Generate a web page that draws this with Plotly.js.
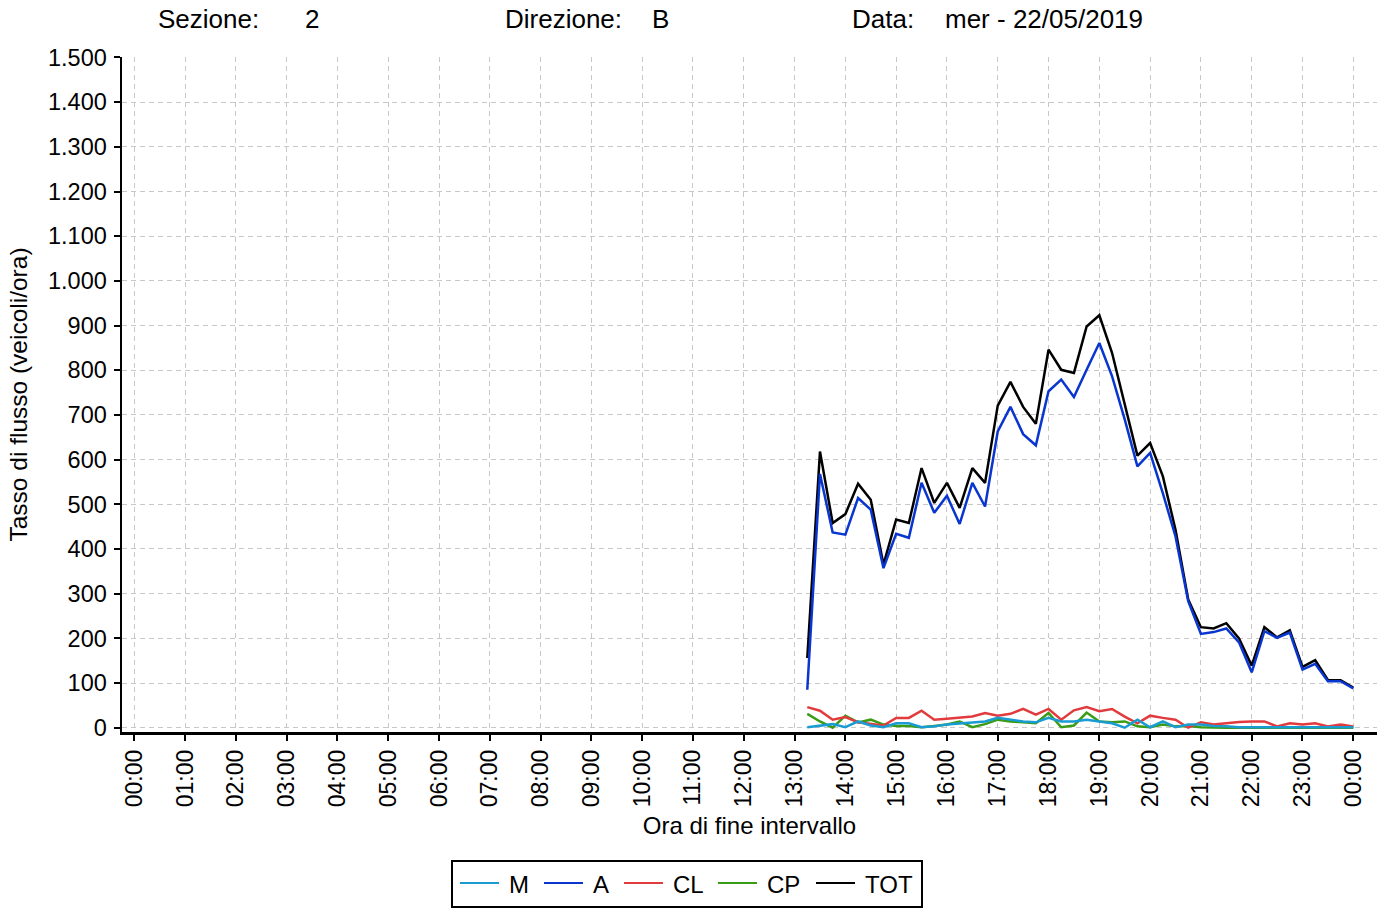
<!DOCTYPE html>
<html>
<head>
<meta charset="utf-8">
<script src="https://cdn.plot.ly/plotly-3.0.1.min.js"></script>
<style>html,body{margin:0;padding:0;background:#fff;}#chart{width:1386px;height:908px;}</style>
</head>
<body>
<div id="chart"></div>
<script>
// End-of-interval times (15-minute intervals)
const times = ["13:15","13:30","13:45","14:00","14:15","14:30","14:45","15:00","15:15","15:30","15:45",
  "16:00","16:15","16:30","16:45","17:00","17:15","17:30","17:45","18:00","18:15","18:30","18:45",
  "19:00","19:15","19:30","19:45","20:00","20:15","20:30","20:45","21:00","21:15","21:30","21:45",
  "22:00","22:15","22:30","22:45","23:00","23:15","23:30","23:45","24:00"];

const M   = [1,5,8,1,14,5,1,10,10,1,3,7,9,12,14,22,18,14,12,22,14,14,18,14,10,0,18,1,14,1,7,7,4,3,1,1,1,1,1,1,1,1,1,1];
const A   = [85,568,437,432,514,488,357,434,425,548,481,519,456,548,495,663,718,657,632,753,779,740,801,861,787,690,585,615,525,428,283,210,214,222,191,124,216,201,213,130,143,104,104,88];
const CL  = [46,38,18,24,12,9,5,22,22,38,18,20,22,25,33,27,31,42,29,42,18,39,46,37,42,25,10,27,22,18,0,12,7,10,13,14,14,3,10,7,10,3,7,3];
const CP  = [31,14,0,27,12,18,7,4,4,1,4,7,14,1,8,18,14,12,10,33,1,5,34,14,12,14,3,1,7,3,4,1,0,0,0,0,0,0,0,0,0,0,0,0];
const TOT = [156,618,458,478,546,510,365,466,458,581,503,548,492,581,548,721,774,718,680,846,801,794,898,923,839,724,609,637,563,443,287,225,222,234,200,139,225,202,218,136,151,107,106,90];

const hourLabels = ["00:00","01:00","02:00","03:00","04:00","05:00","06:00","07:00","08:00","09:00","10:00","11:00",
  "12:00","13:00","14:00","15:00","16:00","17:00","18:00","19:00","20:00","21:00","22:00","23:00","00:00"];
const yTicks = [0,100,200,300,400,500,600,700,800,900,1000,1100,1200,1300,1400,1500];

const seriesNames  = ["M","A","CL","CP","TOT"];
const seriesColors = {"M":"#1a9cd2","A":"#0a36d0","CL":"#e23b3e","CP":"#3a9c14","TOT":"#000000"};
const seriesData   = {"M":M,"A":A,"CL":CL,"CP":CP,"TOT":TOT};

function toHours(t){ const p = t.split(":").map(Number); return p[0] + p[1]/60; }
const xh = times.map(toHours);

const drawOrder = ["TOT","CP","CL","A","M"];
const traces = drawOrder.map(n => ({
  type: "scatter", mode: "lines", name: n,
  x: xh, y: seriesData[n],
  line: {color: seriesColors[n], width: 2.5},
  showlegend: false,
  hoverinfo: "skip"
}));

// plot area geometry (pixels)
const L = 122, R = 9, T = 57, B = 176, W = 1386, H = 908;
const pw = W - L - R, ph = H - T - B;
const px = v => (v - L) / pw;
const py = v => (H - B - v) / ph;

const FONT = "Liberation Sans, Arial, sans-serif";
const hdr = (text, x) => ({text: text, xref: "paper", yref: "paper", x: px(x), y: py(19),
  xanchor: "left", yanchor: "middle", showarrow: false, font: {family: FONT, size: 26, color: "#000"}});

// legend drawn as a framed key below the axis
const legendSampleX = {"M":460,"A":544,"CL":624,"CP":718,"TOT":816};
const legendY = 883;
const shapes = [{type: "rect", xref: "paper", yref: "paper",
  x0: px(452), x1: px(922), y0: py(861), y1: py(907),
  line: {color: "#000", width: 2}, fillcolor: "#fff", layer: "above"}];
const legendNotes = [];
seriesNames.forEach(n => {
  const x0 = legendSampleX[n];
  shapes.push({type: "line", xref: "paper", yref: "paper", x0: px(x0), x1: px(x0 + 39),
    y0: py(legendY), y1: py(legendY), line: {color: seriesColors[n], width: 2}, layer: "above"});
  legendNotes.push({text: n, xref: "paper", yref: "paper", x: px(x0 + 47), y: py(legendY + 1),
    xanchor: "left", yanchor: "middle", showarrow: false, font: {family: FONT, size: 24, color: "#000"}});
});

const layout = {
  width: W, height: H,
  margin: {l: L, r: R, t: T, b: B, pad: 0},
  paper_bgcolor: "#fff", plot_bgcolor: "#fff",
  separators: ",.",
  font: {family: FONT, size: 23, color: "#000"},
  showlegend: false,
  xaxis: {
    range: [-0.242, 24.467],
    tickmode: "array", tickvals: hourLabels.map((_, i) => i), ticktext: hourLabels,
    tickangle: -90, ticks: "outside", ticklen: 6, tickwidth: 2, tickcolor: "#000",
    showline: true, linecolor: "#000", linewidth: 2.5,
    showgrid: true, gridcolor: "#c8c8c8", gridwidth: 1, griddash: "5px,4px",
    zeroline: false, automargin: false,
    tickfont: {family: FONT, size: 23, color: "#000"},
    title: {text: "Ora di fine intervallo", font: {family: FONT, size: 24, color: "#000"}, standoff: 11}
  },
  yaxis: {
    range: [-9.6, 1501],
    tickmode: "array", tickvals: yTicks, tickformat: ",d",
    ticks: "outside", ticklen: 6, tickwidth: 2, tickcolor: "#000",
    showline: true, linecolor: "#000", linewidth: 2.5,
    showgrid: true, gridcolor: "#c8c8c8", gridwidth: 1, griddash: "5px,4px",
    zeroline: false, automargin: false, ticklabelstandoff: 2,
    tickfont: {family: FONT, size: 23.5, color: "#000"},
    title: {text: "Tasso di flusso (veicoli/ora)", font: {family: FONT, size: 24.5, color: "#000"}, standoff: 14}
  },
  shapes: shapes,
  annotations: [
    hdr("Sezione:", 156), hdr("2", 303),
    hdr("Direzione:", 503), hdr("B", 650),
    hdr("Data:", 850), hdr("mer - 22/05/2019", 943)
  ].concat(legendNotes)
};

Plotly.newPlot("chart", traces, layout, {displayModeBar: false, staticPlot: true});
</script>
</body>
</html>
